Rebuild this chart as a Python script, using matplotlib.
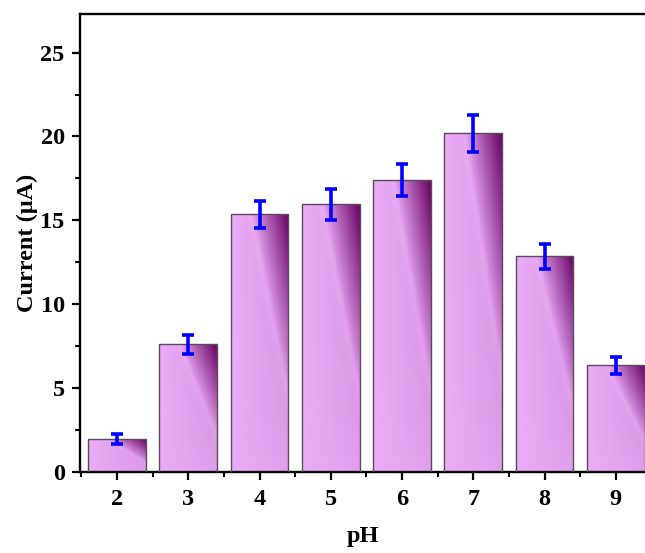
import numpy as np
import matplotlib
matplotlib.use("Agg")
import matplotlib.pyplot as plt
from matplotlib.colors import to_rgb
from matplotlib.ticker import MultipleLocator

ph = [2, 3, 4, 5, 6, 7, 8, 9]
current = [1.95, 7.6, 15.35, 15.95, 17.4, 20.2, 12.85, 6.35]
err = [0.3, 0.55, 0.8, 0.9, 0.95, 1.1, 0.75, 0.5]
tick_labels = ["2", "3", "4", "5", "6", "7", "8", "9"]

plt.rcParams['font.family'] = ['Liberation Serif', 'DejaVu Serif']
plt.rcParams['font.weight'] = 'bold'

fig = plt.figure(figsize=(6.45, 5.53), dpi=100)
ax = fig.add_axes([80/645, 81/553, 565/645, 458/553])

light = np.array(to_rgb('#ebadf8'))
dark = np.array(to_rgb('#700c6c'))

bars = ax.bar(ph, current, width=0.81, facecolor='none', edgecolor='#5a4a5a',
              linewidth=1.0, zorder=3)
nx, ny = 80, 240
u = np.linspace(0, 1, nx)[None, :]
v = np.linspace(1, 0, ny)[:, None]
s = u + 0.92 * v - 1.27
d1 = np.clip(s / 0.65, 0, 1)
d2 = 0.18 * u * np.sqrt(v) + 0.06 * (1 - v) * u
d = np.clip(0.88 * d1 + d2 - 0.04 * np.exp(-(s / 0.07) ** 2), 0, 1)
img = light[None, None, :] * (1 - d[..., None]) + dark[None, None, :] * d[..., None]
img = np.clip(img, 0, 1)

for b in bars:
    x0, w, h = b.get_x(), b.get_width(), b.get_height()
    im = ax.imshow(img, extent=[x0, x0 + w, 0, h],
                   aspect='auto', zorder=2, interpolation='bilinear')
    im.set_clip_path(b)

ax.errorbar(ph, current, yerr=err, fmt='none', ecolor='#0000ff', elinewidth=2.6,
            capsize=4.5, capthick=2.6, zorder=4)

ax.set_xlim(1.48, 9.41)
ax.set_ylim(0, 27.3)
ax.set_xticks(ph)
ax.set_xticklabels(tick_labels)
ax.xaxis.set_minor_locator(MultipleLocator(0.5))
ax.yaxis.set_major_locator(MultipleLocator(5))
ax.yaxis.set_minor_locator(MultipleLocator(2.5))

ax.spines['right'].set_visible(False)
for sp in ['left', 'top', 'bottom']:
    ax.spines[sp].set_linewidth(1.7)
ax.tick_params(which='major', direction='out', length=6, width=1.6, labelsize=17.5, pad=5)
ax.tick_params(which='minor', direction='out', length=3.5, width=1.4)
ax.tick_params(axis='x', which='major', pad=6)
ax.tick_params(top=False, right=False, which='both')

ax.set_xlabel("pH", fontsize=17.5, fontweight='bold', labelpad=12)
ax.set_ylabel("Current (μA)", fontsize=17.5, fontweight='bold', labelpad=2)

fig.savefig("out.png", dpi=100)
